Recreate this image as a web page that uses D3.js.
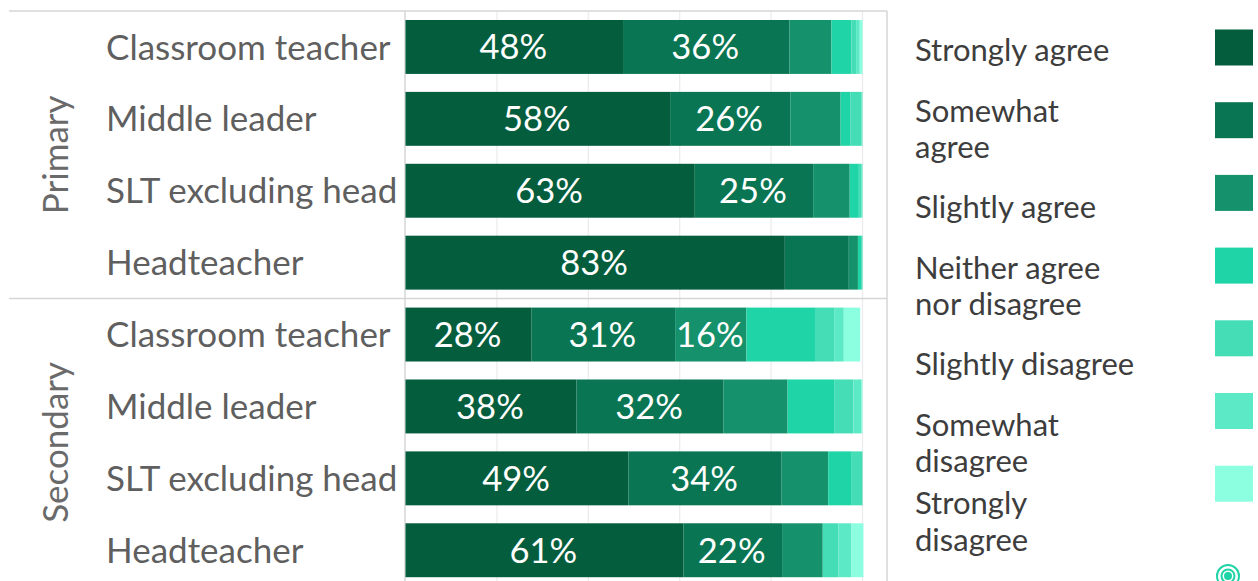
<!DOCTYPE html>
<html><head><meta charset="utf-8">
<script src="https://cdn.jsdelivr.net/npm/d3@7"></script>
<style>body{margin:0;background:#fff;}svg{display:block;font-family:Lato,"Open Sans",sans-serif;}</style>
</head><body>
<svg id="c" width="1258" height="581"></svg>
<script>
const groups = ["Primary","Secondary"];
const roles = ["Classroom teacher","Middle leader","SLT excluding head","Headteacher"];
const series = ["Strongly agree","Somewhat agree","Slightly agree","Neither agree nor disagree","Slightly disagree","Somewhat disagree","Strongly disagree"];
const legendLines = [["Strongly agree"],["Somewhat","agree"],["Slightly agree"],["Neither agree","nor disagree"],["Slightly disagree"],["Somewhat","disagree"],["Strongly","disagree"]];
const colors = ["#045d3d","#0a7552","#15916b","#1fd4a7","#44ddb6","#5ce9c5","#8cffe1"];
// values per row (Primary x4, Secondary x4), one array per series
const stronglyAgree   = [47.6, 57.9, 63.3, 83.0, 27.6, 37.4, 48.8, 60.8];
const somewhatAgree   = [36.4, 26.3, 25.9, 14.0, 31.4, 32.2, 33.5, 21.6];
const slightlyAgree   = [9.2, 11.0, 8.0, 2.0, 15.6, 14.0, 10.2, 8.9];
const neither         = [4.4, 2.2, 2.0, 0.7, 15.0, 10.2, 5.0, 0.0];
const slightlyDisagree= [1.0, 2.4, 0.5, 0.3, 4.2, 4.2, 2.5, 3.4];
const somewhatDisagree= [0.8, 0.2, 0.3, 0.0, 2.1, 1.8, 0.0, 2.9];
const stronglyDisagree= [0.6, 0.0, 0.0, 0.0, 3.6, 0.2, 0.0, 2.6];
const labels = [
  ["48%","36%",""],["58%","26%",""],["63%","25%",""],["83%","",""],
  ["28%","31%","16%"],["38%","32%",""],["49%","34%",""],["61%","22%",""]
];
const xTicks = [0,20,40,60,80,100];

const seriesVals = [stronglyAgree,somewhatAgree,slightlyAgree,neither,slightlyDisagree,somewhatDisagree,stronglyDisagree];
const rows = [];
groups.forEach(g => roles.forEach(r => rows.push({key:g+"|"+r, group:g, role:r})));
rows.forEach((row,i) => series.forEach((s,j) => row[s] = seriesVals[j][i]));

const svg = d3.select("#c");
const x = d3.scaleLinear().domain([0,100]).range([405.5, 862.5]);
const y = d3.scaleBand().domain(rows.map(d=>d.key)).range([11, 586.2]).paddingInner(0.25).paddingOuter(0.125);
const color = d3.scaleOrdinal().domain(series).range(colors);
const stack = d3.stack().keys(series)(rows);

// gridlines
svg.append("g").selectAll("line").data(xTicks.slice(1)).join("line")
  .attr("x1",d=>x(d)).attr("x2",d=>x(d)).attr("y1",11).attr("y2",581)
  .attr("stroke","#ebebeb").attr("stroke-width",1.2);

// frame
const frame = svg.append("g").attr("stroke","#d6d6d6").attr("stroke-width",1.5);
frame.append("line").attr("x1",9).attr("x2",887).attr("y1",11).attr("y2",11);
frame.append("line").attr("x1",405).attr("x2",405).attr("y1",11).attr("y2",581);
frame.append("line").attr("x1",887).attr("x2",887).attr("y1",11).attr("y2",581);
const divY = (y(rows[3].key)+y.bandwidth() + y(rows[4].key))/2;
frame.append("line").attr("x1",9).attr("x2",887).attr("y1",divY).attr("y2",divY);

// bars
svg.append("g").selectAll("g").data(stack).join("g")
  .attr("fill",d=>color(d.key))
  .selectAll("rect").data(d=>d).join("rect")
  .attr("x",d=>x(d[0])).attr("width",d=>Math.max(0,x(d[1])-x(d[0])))
  .attr("y",d=>y(d.data.key)).attr("height",y.bandwidth());

// value labels
const lab = svg.append("g").attr("fill","#fff").attr("font-size",34.5).attr("text-anchor","middle");
stack.slice(0,3).forEach((s,j) => {
  s.forEach((d,i) => {
    const t = labels[i][j];
    if (!t) return;
    lab.append("text").attr("x",(x(d[0])+x(d[1]))/2 - 1).attr("y",y(d.data.key)+y.bandwidth()/2)
      .attr("dy","0.36em").text(t);
  });
});

// row labels
svg.append("g").attr("fill","#5f5f5f").attr("font-size",35).attr("text-anchor","start")
  .selectAll("text").data(rows).join("text")
  .attr("x",106).attr("y",d=>y(d.key)+y.bandwidth()/2).attr("dy","0.36em").text(d=>d.role);

// group labels
groups.forEach((g,gi) => {
  const r0 = rows[gi*4], r3 = rows[gi*4+3];
  const cy = (y(r0.key) + y(r3.key)+y.bandwidth())/2;
  svg.append("text").attr("transform",`translate(55,${cy}) rotate(-90)`)
    .attr("text-anchor","middle").attr("dy","0.36em").attr("fill","#6a6a6a").attr("font-size",35).text(g);
});

// legend
const leg = svg.append("g");
series.forEach((s,i) => {
  leg.append("rect").attr("x",1215).attr("y",29.5+i*72.7).attr("width",38).attr("height",36)
    .attr("fill",color(s));
  const lines = legendLines[i];
  const cy = 50 + i*78.5 + (lines.length>1 ? -18 : 0);
  const t = leg.append("text").attr("x",915).attr("fill","#3d3d3d").attr("font-size",31);
  lines.forEach((l,k) => t.append("tspan").attr("x",915).attr("y",cy + k*36.5).attr("dy","0.36em").text(l));
});
// partially visible legend icon
const ic = leg.append("g").attr("transform","translate(1228,576)").attr("fill","none").attr("stroke","#1fd4a7").attr("stroke-width",2);
ic.append("circle").attr("r",11); ic.append("circle").attr("r",6.5);
ic.append("circle").attr("r",3).attr("fill","#1fd4a7");
</script>
</body></html>
